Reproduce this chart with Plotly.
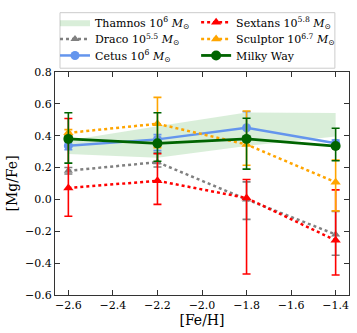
import plotly.graph_objects as go

feh = [-2.6, -2.2, -1.8, -1.4]

# Thamnos band (lower / upper edge)
thamnos_lo = [0.285, 0.262, 0.336, 0.395]
thamnos_hi = [0.37, 0.46, 0.545, 0.543]

draco = [0.18, 0.234, 0.0, -0.22]
draco_up = [0.02, 0.06, 0.11, 0.145]
draco_dn = [0.02, 0.03, 0.125, 0.13]

cetus = [0.337, 0.377, 0.45, 0.353]
cetus_up = [0.025, 0.03, 0.1, 0.02]
cetus_dn = [0.025, 0.07, 0.06, 0.02]

sextans = [0.072, 0.117, 0.009, -0.257]
sextans_up = [0.436, 0.17, 0.116, 0.317]
sextans_dn = [0.178, 0.148, 0.477, 0.217]

sculptor = [0.418, 0.475, 0.345, 0.108]
sculptor_up = [0.02, 0.166, 0.21, 0.14]
sculptor_dn = [0.02, 0.15, 0.13, 0.18]

milky_way = [0.38, 0.352, 0.38, 0.335]
mw_up = [0.164, 0.192, 0.13, 0.112]
mw_dn = [0.152, 0.112, 0.19, 0.092]

MSUN = "<i>M</i><sub>⊙</sub>"
FONT = "DejaVu Serif"

fig = go.Figure()

fig.add_trace(go.Scatter(
    x=feh + feh[::-1], y=thamnos_hi + thamnos_lo[::-1],
    fill="toself", fillcolor="rgba(44,160,44,0.18)", line=dict(width=0),
    mode="lines", name=f"Thamnos 10<sup>6</sup> {MSUN}", legend="legend",
    showlegend=True,
))


def add_series(y, up, dn, color, name, dash, symbol, size, legend, width=2.5):
    fig.add_trace(go.Scatter(
        x=feh, y=y, mode="lines+markers", name=name, legend=legend,
        line=dict(color=color, width=width, dash=dash),
        marker=dict(color=color, symbol=symbol, size=size),
        error_y=dict(type="data", array=up, arrayminus=dn, color=color,
                     thickness=1.6, width=4),
    ))


# one legend per entry so the two columns line up like the original
add_series(draco, draco_up, draco_dn, "#808080", f"Draco 10<sup>5.5</sup> {MSUN}",
           "dot", "triangle-up", 8, "legend2")
add_series(cetus, cetus_up, cetus_dn, "#6495ED", f"Cetus 10<sup>6</sup> {MSUN}",
           "solid", "circle", 9, "legend3")
add_series(sextans, sextans_up, sextans_dn, "red", f"Sextans 10<sup>5.8</sup> {MSUN}",
           "dot", "triangle-up", 9, "legend4")
add_series(sculptor, sculptor_up, sculptor_dn, "orange", f"Sculptor 10<sup>6.7</sup> {MSUN}",
           "dot", "triangle-up", 9, "legend5")
add_series(milky_way, mw_up, mw_dn, "#006400", "Milky Way",
           "solid", "circle", 10, "legend6", width=2.8)

axis_style = dict(
    showline=True, mirror="ticks", linecolor="#333", linewidth=1.3,
    ticks="inside", ticklen=5, tickwidth=1.2, tickcolor="#333",
    showgrid=False, zeroline=False, tickformat=".1f", automargin=False,
    tickfont=dict(family=FONT, size=11, color="black"),
)

fig.update_xaxes(range=[-2.66, -1.34], dtick=0.2, tick0=-2.6,
                 title=dict(text="[Fe/H]", font=dict(family=FONT, size=14, color="black"),
                            standoff=2),
                 **axis_style)
fig.update_yaxes(range=[-0.6, 0.8], dtick=0.2, tick0=0,
                 title=dict(text="[Mg/Fe]", font=dict(family=FONT, size=14, color="black"),
                            standoff=4),
                 **axis_style)

# shared frame round both legend columns
fig.add_shape(type="rect", xref="paper", yref="paper",
              x0=0.017, x1=0.952, y0=1.017, y1=1.266,
              line=dict(color="#cccccc", width=1), fillcolor="white", layer="above")

leg = dict(xanchor="left", yanchor="middle", bgcolor="rgba(0,0,0,0)",
           borderwidth=0, font=dict(family=FONT, size=11), itemwidth=30)
rows = [1.2227, 1.1485, 1.0742]
cols = [0.0, 0.48]

fig.update_layout(
    width=357, height=333,
    margin=dict(l=55, r=8, t=66, b=38),
    plot_bgcolor="white", paper_bgcolor="white",
    font=dict(family=FONT, size=11, color="black"),
    showlegend=True,
    legend=dict(x=cols[0], y=rows[0], **leg),
    legend2=dict(x=cols[0], y=rows[1], **leg),
    legend3=dict(x=cols[0], y=rows[2], **leg),
    legend4=dict(x=cols[1], y=rows[0], **leg),
    legend5=dict(x=cols[1], y=rows[1], **leg),
    legend6=dict(x=cols[1], y=rows[2], **leg),
)

fig.write_html("out.html", config={"displayModeBar": False},
               post_script="document.body.style.margin='0';")
